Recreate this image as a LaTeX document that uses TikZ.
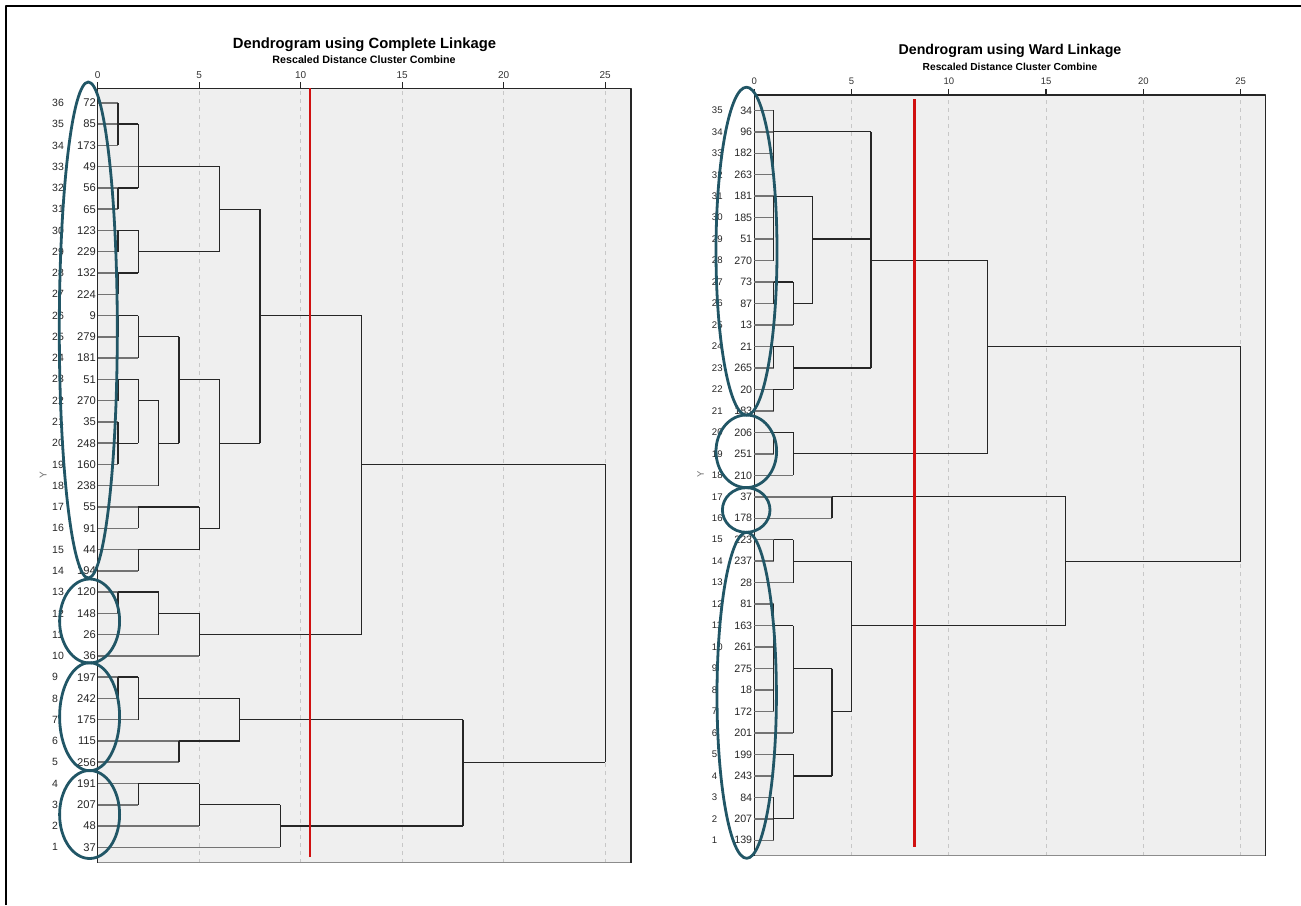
\documentclass[tikz,border=0pt]{standalone}
\usepackage{fontspec}
\setmainfont{Liberation Sans}
\definecolor{clusblue}{RGB}{33,86,102}
\definecolor{cutred}{RGB}{208,16,16}
\definecolor{plotgray}{RGB}{239,239,239}

\begin{document}
\begin{tikzpicture}[x=1pt,y=-1pt,line join=round,
	frame/.style={line width=2pt},
	panel/.style={fill=plotgray},
	gridline/.style={black!22,line width=0.8pt,dash pattern=on 4pt off 4pt},
	axisline/.style={black!85,line width=1.3pt},
	floorline/.style={black!45,line width=1.8pt},
	link/.style={black!85,line width=1.3pt},
	leafline/.style={black!55,line width=1.5pt},
	cut/.style={cutred,line width=2.3pt},
	clus/.style={clusblue,line width=2.8pt},
	title/.style={anchor=base,font=\fontsize{#1}{#1}\selectfont\bfseries},
	leaf/.style={anchor=east,inner sep=0pt,text=black!85,font=\fontsize{#1}{#1}\selectfont},
	rownum/.style={anchor=west,inner sep=0pt,text=black!85,font=\fontsize{#1}{#1}\selectfont},
	ticklab/.style={anchor=base,inner sep=0pt,text=black!80,font=\fontsize{#1}{#1}\selectfont},
	ylab/.style={rotate=90,inner sep=0pt,text=black!55,font=\fontsize{#1}{#1}\selectfont}]
	\useasboundingbox (0,0) rectangle (1301,905);
	\draw[frame] (6,905) -- (6,6) -- (1301,6);

	% titles
	\node[title=14.8] (ctitle) at (364.5,48.3) {Dendrogram using Complete Linkage};
	\node[title=10.7] (csub) at (364,63.3) {Rescaled Distance Cluster Combine};
	\node[title=14.2] (wtitle) at (1010,54.3) {Dendrogram using Ward Linkage};
	\node[title=10.2] (wsub) at (1010,70.3) {Rescaled Distance Cluster Combine};

	% complete linkage
	\begin{scope}[shift={(97.7pt,-868.57pt)},x=20.3pt,y=21.27pt]
		\fill[panel] (0,0.285) rectangle (26.27,36.68);
		\foreach \t in {5,10,...,25}
			\draw[gridline] (\t,0.285) -- (\t,36.68);
		\draw[floorline] (0,0.285) -- (26.27,0.285);
		\draw[axisline] (0,0.285) -- (0,36.68) -- (26.27,36.68) -- (26.27,0.285);
		\foreach \t in {0,5,...,25}{
			\draw[axisline] (\t,36.68) -- (\t,36.96);
			\node[ticklab=10] at (\t,37.15) {\t};
		}
		\node[ylab=10] (cy) at (-2.69,18.5) {Y};
		\foreach \lab [count=\r] in {37,48,207,191,256,115,175,242,197,36,26,148,120,194,44,91,55,238,160,248,35,270,51,181,279,9,224,132,229,123,65,56,49,173,85,72}{
			\node[leaf=11.2] (c\r) at (-0.08,\r) {\lab};
			\node[rownum=10.5] at (-2.25,\r) {\r};
		}
		\foreach \r/\v in {1/9,2/5,3/2,4/2,5/4,6/4,7/2,8/1,9/1,10/5,11/3,12/1,13/1,14/2,15/2,16/2,17/2,18/3,19/1,20/1,21/1,22/1,23/1,24/2,25/1,26/1,27/1,28/1,29/1,30/1,31/1,32/1,33/2,34/1,35/1,36/1}
			\draw[leafline] (0,\r) -- (\v,\r);
		% merges: height/top/bottom/out row/parent height
		\foreach \v/\a/\b/\o/\p in {1/36/34/35/2,1/32/31/32/2,2/35/32/33/6,1/30/29/30/2,1/28/27/28/2,2/30/28/29/6,6/33/29/31/8,
			1/26/25/26/2,2/26/24/25/4,1/23/22/23/2,1/21/19/20/2,2/23/20/22/3,3/22/18/20/4,4/25/20/23/6,
			2/17/16/17/5,2/15/14/15/5,5/17/15/16/6,6/23/16/20/8,8/31/20/26/13,
			1/13/12/13/3,3/13/11/12/5,5/12/10/11/13,13/26/11/19/25,
			1/9/8/9/2,2/9/7/8/7,4/6/5/6/7,7/8/6/7/18,2/4/3/4/5,5/4/2/3/9,9/3/1/2/18,18/7/2/5/25}
			\draw[link] (\v,\a) -- (\v,\b) (\v,\o) -- (\p,\o);
		\draw[link] (25,19) -- (25,5);
		\draw[cut] (10.46,0.544) -- (10.46,36.68);
	\end{scope}

	% ward linkage
	\begin{scope}[shift={(754.3pt,-861.77pt)},x=19.45pt,y=21.47pt]
		\fill[panel] (0,0.292) rectangle (26.28,35.71);
		\foreach \t in {5,10,...,25}
			\draw[gridline] (\t,0.292) -- (\t,35.71);
		\draw[floorline] (0,0.292) -- (26.28,0.292);
		\draw[axisline] (0,0.292) -- (0,35.71) -- (26.28,35.71) -- (26.28,0.292);
		\foreach \t in {0,5,...,25}{
			\draw[axisline] (\t,35.71) -- (\t,35.99);
			\node[ticklab=9.5] at (\t,36.18) {\t};
		}
		\node[ylab=9.5] (wy) at (-2.76,18.06) {Y};
		\foreach \lab [count=\r] in {139,207,84,243,199,201,172,18,275,261,163,81,28,237,223,178,37,210,251,206,183,20,265,21,13,87,73,270,51,185,181,263,182,96,34}{
			\node[leaf=10.7] (w\r) at (-0.1,\r) {\lab};
			\node[rownum=9.6] at (-2.19,\r) {\r};
		}
		\foreach \r/\v in {1/1,2/1,3/1,4/1,5/1,6/2,7/1,8/1,9/1,10/1,11/1,12/1,13/2,14/1,15/1,16/4,17/4,18/2,19/1,20/1,21/1,22/1,23/1,24/1,25/2,26/1,27/1,28/1,29/1,30/1,31/1,32/1,33/1,34/1,35/1}
			\draw[leafline] (0,\r) -- (\v,\r);
		\foreach \v/\a/\b/\o/\p in {1/35/32/34/6,1/31/28/31/3,1/27/26/27/2,2/27/25/26/3,3/31/26/29/6,
			1/24/23/24/2,1/22/21/22/2,2/24/22/23/6,6/34/23/28/12,1/20/19/20/2,2/20/18/19/12,12/28/19/24/25,
			4/17/16/17/16,1/15/14/15/2,2/15/13/14/5,1/12/7/11/2,2/11/6/9/4,1/5/4/5/2,1/3/1/2/2,2/5/2/4/4,
			4/9/4/7/5,5/14/7/11/16,16/17/11/14/25}
			\draw[link] (\v,\a) -- (\v,\b) (\v,\o) -- (\p,\o);
		\draw[link] (25,24) -- (25,14);
		\draw[cut] (8.23,0.70) -- (8.23,35.53);
	\end{scope}

	% clusters
	\draw[clus] (88.3,330) ellipse [x radius=29pt,y radius=248pt];
	\draw[clus] (89.6,621) ellipse [x radius=30pt,y radius=42pt];
	\draw[clus] (89.6,716.7) ellipse [x radius=30pt,y radius=54pt];
	\draw[clus] (89.6,814.5) ellipse [x radius=30pt,y radius=44pt];
	\draw[clus] (746.5,251.2) ellipse [x radius=30.5pt,y radius=164pt];
	\draw[clus] (746.3,451.3) ellipse [x radius=30.3pt,y radius=36.3pt];
	\draw[clus] (746.2,510) ellipse [x radius=23.8pt,y radius=22.3pt];
	\draw[clus] (746.7,695.3) ellipse [x radius=29.7pt,y radius=163pt];
\end{tikzpicture}
\end{document}
